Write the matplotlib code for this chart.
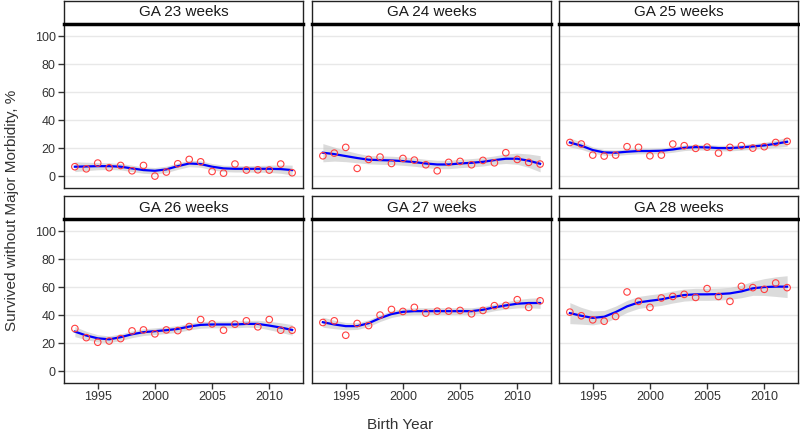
import numpy as np
import matplotlib.pyplot as plt

plt.rcParams['font.family'] = ['Liberation Sans', 'DejaVu Sans']

years = np.arange(1993, 2013)
panels = ['GA 23 weeks', 'GA 24 weeks', 'GA 25 weeks',
          'GA 26 weeks', 'GA 27 weeks', 'GA 28 weeks']

# observed rates, %
obs_23 = [6.7, 5.2, 9.3, 6.0, 7.6, 3.8, 7.6, 0.0, 2.9, 8.8,
          11.9, 10.2, 3.3, 2.1, 8.6, 4.3, 4.5, 4.3, 8.6, 2.4]
obs_24 = [14.5, 16.4, 20.5, 5.5, 11.9, 13.6, 9.0, 12.6, 11.4, 8.1,
          3.8, 9.8, 10.5, 8.1, 11.2, 9.5, 16.7, 11.9, 9.8, 8.6]
obs_25 = [24.0, 22.9, 15.0, 14.3, 15.0, 21.0, 20.5, 14.5, 15.0, 22.9,
          21.7, 19.8, 20.7, 16.4, 20.5, 21.7, 20.0, 21.0, 24.0, 24.8]
obs_26 = [30.4, 23.9, 20.6, 21.5, 23.2, 28.7, 29.4, 26.6, 29.4, 28.9,
          31.8, 36.8, 33.7, 29.2, 33.5, 35.9, 31.6, 36.8, 29.2, 29.2]
obs_27 = [34.7, 35.9, 25.6, 34.0, 32.5, 40.0, 44.0, 42.6, 45.5, 41.4,
          42.8, 42.8, 43.3, 40.9, 43.3, 46.7, 46.9, 51.0, 45.5, 50.2]
obs_28 = [42.1, 39.5, 36.6, 35.6, 39.0, 56.5, 49.8, 45.5, 52.2, 53.3,
          54.8, 52.6, 58.9, 53.3, 49.8, 60.5, 59.6, 58.4, 62.9, 59.6]

# smoothed trend
fit_23 = [6.7, 6.9, 7.1, 7.1, 6.7, 5.5, 4.3, 3.8, 4.8, 7.1,
          9.0, 8.6, 6.7, 5.5, 5.2, 5.2, 5.2, 5.2, 5.0, 4.3]
fit_24 = [16.7, 15.7, 14.3, 12.9, 11.7, 11.4, 11.2, 10.7, 10.0, 9.0,
          8.3, 8.3, 9.0, 9.5, 10.2, 11.4, 12.4, 12.4, 11.0, 8.8]
fit_25 = [24.0, 21.7, 18.6, 16.9, 16.7, 17.4, 17.9, 17.9, 18.1, 19.0,
          20.2, 20.7, 20.5, 20.0, 20.0, 20.5, 21.2, 21.9, 23.1, 24.5]
fit_26 = [28.2, 25.4, 23.4, 22.7, 24.2, 26.3, 27.8, 28.5, 29.2, 30.1,
          31.8, 33.0, 33.3, 33.3, 33.3, 33.7, 33.7, 32.5, 31.1, 29.4]
fit_27 = [34.9, 33.3, 32.1, 32.1, 34.2, 37.8, 40.7, 42.3, 42.8, 42.8,
          42.8, 42.8, 42.8, 42.8, 43.8, 45.5, 46.9, 48.1, 48.6, 48.6]
fit_28 = [41.4, 39.5, 38.0, 38.8, 42.1, 46.2, 49.0, 50.2, 51.2, 52.9,
          54.3, 54.8, 54.8, 55.0, 55.5, 56.9, 59.1, 60.0, 60.3, 60.3]

# half-width of the confidence band
band_23 = [3.5, 3.0, 2.6, 2.4, 2.3, 2.3, 2.3, 2.3, 2.3, 2.3,
           2.3, 2.3, 2.3, 2.3, 2.3, 2.3, 2.4, 2.6, 3.0, 3.5]
band_24 = [6.5, 5.0, 4.0, 3.4, 3.0, 3.0, 3.0, 3.0, 3.0, 3.0,
           3.0, 3.0, 3.0, 3.0, 3.0, 3.0, 3.4, 4.0, 4.8, 5.8]
band_25 = [3.2, 2.6, 2.2, 2.0, 2.0, 2.0, 2.0, 2.0, 2.0, 2.0,
           2.0, 2.0, 2.0, 2.0, 2.0, 2.0, 2.0, 2.2, 2.6, 3.2]
band_26 = [3.6, 3.0, 2.6, 2.4, 2.4, 2.4, 2.4, 2.4, 2.4, 2.4,
           2.4, 2.4, 2.4, 2.4, 2.4, 2.4, 2.6, 3.0, 3.4, 3.8]
band_27 = [3.6, 3.0, 2.6, 2.4, 2.4, 2.4, 2.4, 2.4, 2.4, 2.4,
           2.4, 2.4, 2.4, 2.4, 2.4, 2.4, 2.6, 3.0, 3.4, 3.8]
band_28 = [7.5, 6.0, 5.0, 4.5, 4.3, 4.3, 4.3, 4.3, 4.3, 4.3,
           4.3, 4.3, 4.3, 4.3, 4.3, 4.5, 5.0, 6.0, 7.0, 7.8]

obs = [obs_23, obs_24, obs_25, obs_26, obs_27, obs_28]
fits = [fit_23, fit_24, fit_25, fit_26, fit_27, fit_28]
bands = [band_23, band_24, band_25, band_26, band_27, band_28]

fig = plt.figure(figsize=(8, 4.36), dpi=100)
W, H = 800, 436
lefts = [64, 312, 559]
pw = 239
tops = [24, 219]
ph = 164
sh = 23

for i in range(6):
    r, c = divmod(i, 3)
    x0 = lefts[c]
    y0 = tops[r]
    ax = fig.add_axes([x0 / W, 1 - (y0 + ph) / H, pw / W, ph / H])
    lo = np.array(fits[i]) - np.array(bands[i])
    hi = np.array(fits[i]) + np.array(bands[i])
    ax.fill_between(years, lo, hi, color='#c4c4c4', alpha=0.6, lw=0, zorder=2)
    ax.plot(years, fits[i], color='#0000ff', lw=1.6, zorder=3)
    ax.scatter(years, obs[i], s=22, facecolors='none', edgecolors='#ff4040',
               linewidths=0.8, zorder=4)
    ax.set_xlim(1992.05, 2012.95)
    ax.set_ylim(-8.5, 108.6)
    ax.set_yticks([0, 20, 40, 60, 80, 100])
    ax.set_xticks([1995, 2000, 2005, 2010])
    ax.yaxis.grid(True, color='#e8e8e8', lw=1)
    ax.set_axisbelow(True)
    for s in ax.spines.values():
        s.set_color('#222222')
        s.set_linewidth(1)
    ax.tick_params(direction='out', length=4, width=1, color='#333333',
                   labelsize=9, labelcolor='#333333', pad=2)
    if c != 0:
        ax.tick_params(axis='y', left=False, labelleft=False)
    if r != 1:
        ax.tick_params(axis='x', bottom=False, labelbottom=False)

    # strip
    sax = fig.add_axes([x0 / W, 1 - y0 / H, pw / W, sh / H])
    sax.set_xticks([])
    sax.set_yticks([])
    for s in sax.spines.values():
        s.set_color('#222222')
        s.set_linewidth(1)
    sax.spines['bottom'].set_linewidth(2.5)
    sax.spines['bottom'].set_color('black')
    sax.text(0.5, 0.5, panels[i], ha='center', va='center', fontsize=11,
             color='#1a1a1a', transform=sax.transAxes)

fig.text(0.5, 1 - 425 / H, 'Birth Year', ha='center', va='center',
         fontsize=11, color='#333333')
fig.text(12 / W, 1 - 210 / H, 'Survived without Major Morbidity, %',
         rotation=90, ha='center', va='center', fontsize=11, color='#333333')

fig.savefig('out.png', dpi=100)
